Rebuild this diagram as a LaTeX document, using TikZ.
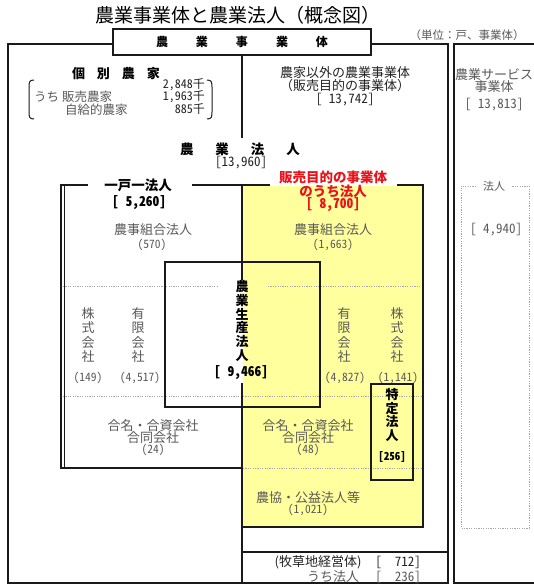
\documentclass[tikz,border=0pt]{standalone}
\usepackage{fontspec}
\setmainfont{Noto Sans CJK JP}
\definecolor{gtx}{HTML}{595959}
\definecolor{dtx}{HTML}{222222}
\definecolor{yel}{HTML}{FFFF9E}
\definecolor{redt}{HTML}{E8141C}
\definecolor{frm}{HTML}{1A1A1A}
\definecolor{dotc}{HTML}{A8A8A8}
\newcommand{\fs}[2]{\fontsize{#1}{#2}\selectfont}
\newcommand{\hw}[1]{{\addfontfeatures{CharacterWidth=Half}#1}}
\begin{document}
\begin{tikzpicture}[x=1pt,y=-1pt,
  gt/.style={text=gtx, font=\fs{13}{12}, align=center, inner sep=0pt},
  gs/.style={text=gtx, font=\fs{12.5}{12}, align=center, inner sep=0pt},
  gn/.style={text=gtx, font=\fs{11.5}{12}, align=center, inner sep=0pt},
  bt/.style={text=dtx, font=\fs{13}{11.5}, align=center, inner sep=0pt},
  bs/.style={text=dtx, font=\fs{12}{11.5}, align=center, inner sep=0pt},
  bb/.style={text=black, font=\fs{13.5}{13}\bfseries, align=center, inner sep=0pt},
  rt/.style={text=redt, font=\fs{13.5}{12.3}\bfseries, align=center, inner sep=0pt},
  vt/.style={text=gtx, font=\fs{13}{14.3}, align=center, inner sep=0pt},
  vb/.style={text=black, font=\fs{13}{13.8}\bfseries, align=center, inner sep=0pt},
  outerframe/.style={draw=frm, line width=2.4pt},
  midframe/.style={draw=frm, line width=1.7pt},
  thinframe/.style={draw=frm, line width=1.1pt},
  dotline/.style={draw=dotc, line width=0.9pt, dash pattern=on 1.2pt off 1.2pt},
]
\useasboundingbox (0,0) rectangle (534,584);
\fill[white] (0,0) rectangle (534,584);

% yellow area
\fill[yel] (243,186) rectangle (423,527);

% outer frame and right panel
\draw[outerframe] (8,44) rectangle (448,583);
\draw[midframe] (537,44) -- (454,44) -- (454,583) -- (537,583);

% dotted separators
\draw[dotline] (63,286) -- (218,286);
\draw[dotline] (268,286) -- (421,286);
\draw[dotline] (63,396) -- (421,396);
\draw[dotline] (243,468) -- (421,468);
\draw[dotline] (476,186) -- (461,186) -- (461,528) -- (529,528) -- (529,186) -- (512,186);

% title
\node[text=black, font=\fs{19}{20}, inner sep=0pt] (title) at (238,15) {農業事業体と農業法人（概念図）};
\node[text=gtx, font=\fs{11.5}{12}, inner sep=0pt] (unit) at (467,35) {（単位：戸、事業体）};

% title box
\node[draw=frm, line width=1.5pt, fill=white, minimum width=258pt, minimum height=26pt, inner sep=0pt,
      font=\fs{12}{12}\bfseries] (tb) at (242,42) {農\hspace{28pt}業\hspace{28pt}事\hspace{28pt}業\hspace{28pt}体};

% vertical divider
\coordinate (vd1) at (242,138);
\coordinate (vd2) at (242,185);
\coordinate (vd3) at (242,280);
\coordinate (vd4) at (242,383);
\coordinate (vd5) at (242,583);
\draw[frm, line width=1.5pt] (tb.south) -- (vd1);
\draw[frm, line width=1.5pt] (vd2) -- (vd3);
\draw[frm, line width=1.5pt] (vd4) -- (vd5);

% individual farms block
\node[text=black, font=\fs{13}{12}\bfseries, inner sep=0pt] (kobetsu) at (116,74) {個\hspace{12pt}別\hspace{12pt}農\hspace{12pt}家};
\node[bs, anchor=east] (n1) at (205,84.5) {\hw{2,848}千};
\node[gs, anchor=west] (l2) at (34,97) {うち 販売農家};
\node[bs, anchor=east] (n2) at (205,97) {\hw{1,963}千};
\node[gs, anchor=west] (l3) at (65,109.5) {自給的農家};
\node[bs, anchor=east] (n3) at (205,109.5) {\hw{885}千};
\draw[frm, line width=1pt] (34,80) .. controls (29.5,80) and (29,82) .. (29,87) -- (29,112) .. controls (29,117) and (29.5,119) .. (34,119);
\draw[frm, line width=1pt] (207,80) .. controls (211.5,80) and (212,82) .. (212,87) -- (212,112) .. controls (212,117) and (211.5,119) .. (207,119);

% non-family farm entities
\node[bt] (nonfam) at (345,86) {農家以外の農業事業体\\（販売目的の事業体）\\\hw{{[} 13,742]}};

% agricultural service entities
\node[gt] (svc) at (494,81) {農業サービス\\事業体};
\node[gt] (svcn) at (494,105) {\hw{[ 13,813]}};
\node[text=gtx, font=\fs{11}{12}, fill=white, inner xsep=2pt, inner ysep=0pt] (svch) at (494,186) {法人};
\node[gt] (svchn) at (496,230) {\hw{[ 4,940]}};

% agricultural corporations
\node[text=black, font=\fs{13.5}{13}\bfseries, inner sep=0pt] (nh) at (240,149) {農\hspace{22pt}業\hspace{22pt}法\hspace{22pt}人};
\node[bt] (nhn) at (241,163) {\hw{[13,960]}};

% one-household-one-corporation frame
\coordinate (ik1) at (88,185);
\coordinate (ik2) at (61,185);
\coordinate (ik3) at (61,468);
\coordinate (ik4) at (242,468);
\coordinate (ik5) at (192,185);
\coordinate (ik6) at (270,185);
\draw[midframe] (ik1) -- (ik2) -- (ik3) -- (ik4);
\draw[frm, line width=0.8pt] (64.5,186) -- (64.5,467);
\draw[midframe] (ik5) -- (ik6);
\node[bb] (ikko) at (138,185) {一戸一法人};
\node[bb] (ikkon) at (139,203) {\hw{[ 5,260]}};

% sales-purpose corporations frame (yellow)
\coordinate (ye1) at (397,185);
\coordinate (ye2) at (423,185);
\coordinate (ye3) at (423,527);
\coordinate (ye4) at (242,527);
\draw[midframe] (ye1) -- (ye2) -- (ye3) -- (ye4) -- (ik4);
\node[rt] (hanbai) at (333,191) {販売目的の事業体\\のうち法人\\\hw{{[} 8,700]}};

% agricultural production corporation box
\draw[thinframe] (165,262) rectangle (320,407);
\node[vb] (seisan) at (242,321) {農\\業\\生\\産\\法\\人};
\node[bb] (seisann) at (241,373) {\hw{[ 9,466]}};

% specific corporation box
\draw[frm, line width=1.3pt] (371,384) rectangle (413,480);
\node[vb] (tokutei) at (392,415) {特\\定\\法\\人};
\node[text=black, font=\fs{11}{12}\bfseries, inner sep=0pt] (tokuteii) at (392,457) {\hw{[256]}};

% texts left (white) region
\node[gt] (nj1) at (153,230) {農事組合法人};
\node[gn] (nj1n) at (152,245) {\hw{(570)}};
\node[vt] (kk1) at (88,335) {株\\式\\会\\社};
\node[gn] (kk1n) at (88,378) {\hw{(149)}};
\node[vt] (yg1) at (138,335) {有\\限\\会\\社};
\node[gn] (yg1n) at (140,378) {\hw{(4,517)}};
\node[gt] (gm1) at (153,432) {合名・合資会社\\合同会社};
\node[gn] (gm1n) at (153,450) {\hw{(24)}};

% texts right (yellow) region
\node[gt] (nj2) at (333,230) {農事組合法人};
\node[gn] (nj2n) at (333,245) {\hw{(1,663)}};
\node[vt] (yg2) at (344,335) {有\\限\\会\\社};
\node[gn] (yg2n) at (345,378) {\hw{(4,827)}};
\node[vt] (kk2) at (397,335) {株\\式\\会\\社};
\node[gn] (kk2n) at (398,378) {\hw{(1,141)}};
\node[gt] (gm2) at (308,432) {合名・合資会社\\合同会社};
\node[gn] (gm2n) at (308,450) {\hw{(48)}};
\node[gt] (nk) at (308,498) {農協・公益法人等};
\node[gn] (nkn) at (308,510) {\hw{(1,021)}};

% pasture box
\coordinate (pb1) at (242,552);
\coordinate (pb2) at (448,552);
\draw[midframe] (pb1) -- (pb2);
\node[bt] (past) at (318,562) {(牧草地経営体)};
\node[bt] (pastn) at (398,562) {\hw{[ \ 712]}};
\node[gt] (pastc) at (333,577) {うち法人};
\node[gt] (pastcn) at (398,577) {\hw{[ \ 236]}};
\end{tikzpicture}
\end{document}
